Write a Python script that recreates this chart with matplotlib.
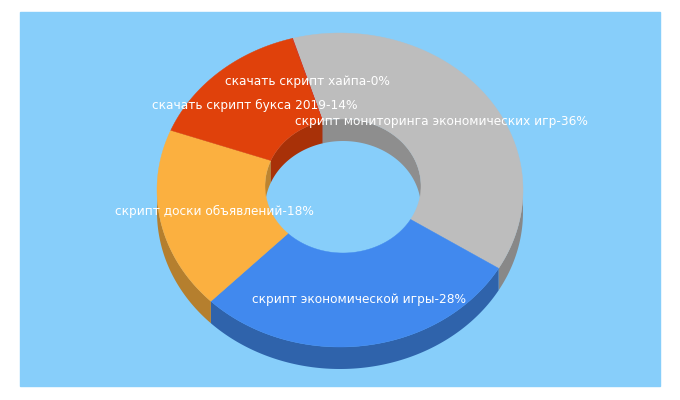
import numpy as np
import matplotlib
matplotlib.use("Agg")
import matplotlib.pyplot as plt
from matplotlib.patches import Rectangle

labels = ["скрипт мониторинга экономических игр-36%", "скрипт экономической игры-28%",
          "скрипт доски объявлений-18%", "скачать скрипт букса 2019-14%", "скачать скрипт хайпа-0%"]
values = [36, 28, 18, 14, 0.05]
colors = ["#bdbdbd", "#4189ee", "#fbb040", "#e0410b", "#d9341a"]
label_pos = [(441, 122), (359, 300), (214, 211), (255, 105), (307, 81)]

fig = plt.figure(figsize=(6.8, 4.0), dpi=100)
ax = fig.add_axes([0, 0, 1, 1])
ax.set_xlim(0, 680); ax.set_ylim(400, 0); ax.axis("off")
ax.add_patch(Rectangle((20, 12), 640, 374, color="#87cefa", zorder=0))

cx, cy, rx, ry = 340, 190, 183, 157
icx, icy, irx, iry = 343, 186, 78, 67
depth = 22
start = -15.0

def dark(c, f=0.7):
    r = matplotlib.colors.to_rgb(c)
    return tuple(v * f for v in r)

def pt(t, x0, y0, a, b, dy=0):
    t = np.radians(t)
    return x0 + a * np.sin(t), y0 - b * np.cos(t) + dy

tot = sum(values)
angles = [start]
for v in values:
    angles.append(angles[-1] + 360 * v / tot)

for i, v in enumerate(values):
    a0, a1 = angles[i], angles[i + 1]
    t = np.linspace(a0, a1, 100)
    tt = np.mod(t, 360)
    mask = (tt < 90) | (tt > 270)
    if not mask.any():
        continue
    ts = t[mask]
    x1, y1 = pt(ts, icx, icy, irx, iry)
    x2, y2 = pt(ts[::-1], icx, icy, irx, iry, depth)
    ax.fill(np.r_[x1, x2], np.r_[y1, y2], color=dark(colors[i], 0.75), zorder=1, lw=0)
for i, v in enumerate(values):
    a0, a1 = angles[i], angles[i + 1]
    t = np.linspace(a0, a1, 200)
    tt = np.mod(t, 360)
    mask = (tt > 90) & (tt < 270)
    if not mask.any():
        continue
    ts = t[mask]
    x1, y1 = pt(ts, cx, cy, rx, ry)
    x2, y2 = pt(ts[::-1], cx, cy, rx, ry, depth)
    ax.fill(np.r_[x1, x2], np.r_[y1, y2], color=dark(colors[i], 0.72), zorder=1, lw=0)
for i, v in enumerate(values):
    a0, a1 = angles[i], angles[i + 1]
    t = np.linspace(a0, a1, 200)
    xo, yo = pt(t, cx, cy, rx, ry)
    xi, yi = pt(t[::-1], icx, icy, irx, iry)
    ax.fill(np.r_[xo, xi], np.r_[yo, yi], color=colors[i], zorder=2, lw=0.3, ec=colors[i])

for lab, (x, y) in zip(labels, label_pos):
    ax.text(x, y, lab, color="white", fontsize=8.7, ha="center", va="center",
            family="DejaVu Sans", zorder=5)

fig.savefig("out.png", dpi=100)
